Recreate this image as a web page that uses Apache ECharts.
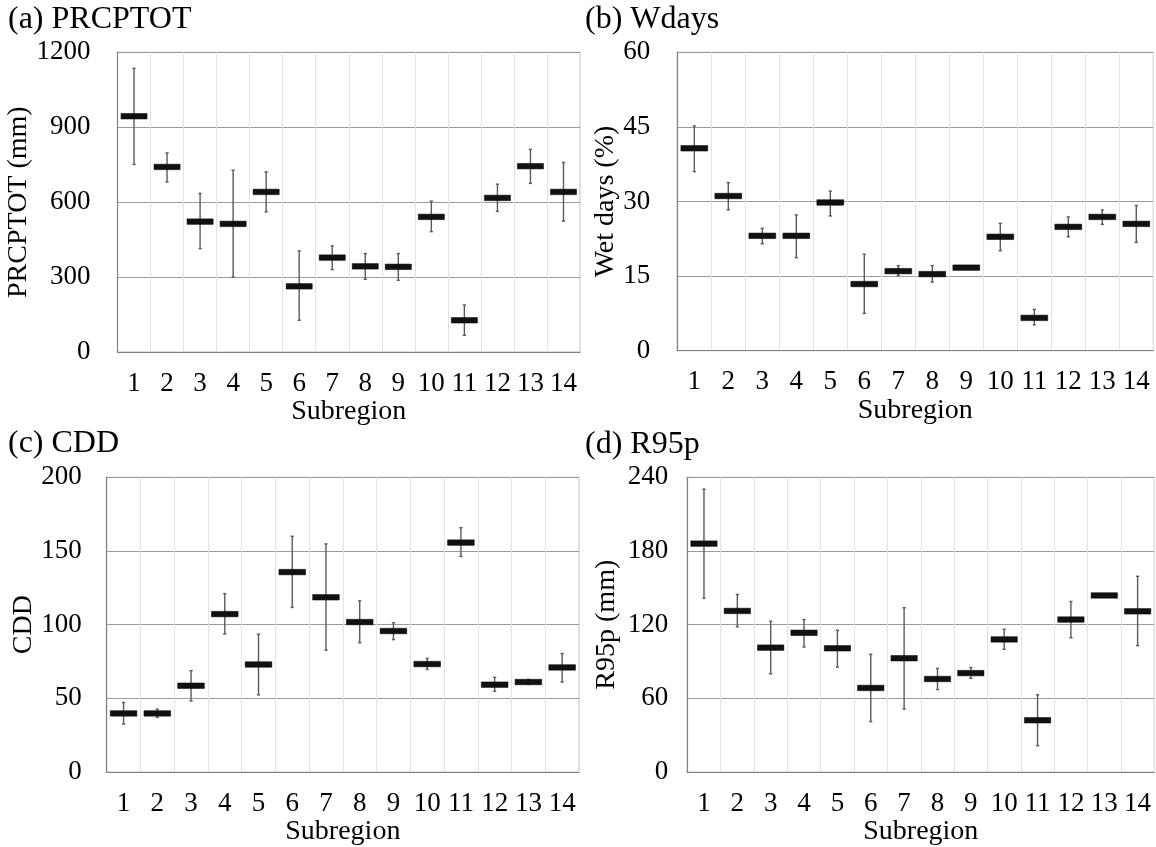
<!DOCTYPE html>
<html>
<head>
<meta charset="utf-8">
<script src="https://cdn.jsdelivr.net/npm/echarts@6/dist/echarts.min.js"></script>
<style>
  html, body { margin: 0; padding: 0; background: #fff; }
  #chart { width: 1156px; height: 847px; }
</style>
</head>
<body>
<div id="chart"></div>
<script>
// Subregion labels shared by all four panels
const subregions = ['1','2','3','4','5','6','7','8','9','10','11','12','13','14'];

// (a) PRCPTOT (mm): central value, lower and upper ends of the range
const prcptotMid  = [944, 741, 522, 513, 641, 263, 378, 343, 341, 541, 127, 617, 744, 641];
const prcptotLow  = [751, 681, 414, 300, 561, 127, 330, 291, 287, 482,  67, 563, 675, 524];
const prcptotHigh = [1136, 797, 635, 728, 721, 405, 425, 394, 394, 604, 188, 672, 811, 759];

// (b) Wet days (%)
const wdaysMid  = [40.7, 31.1, 23.1, 23.1, 29.8, 13.4, 16.0, 15.4, 16.7, 22.9, 6.6, 24.9, 26.9, 25.5];
const wdaysLow  = [36.0, 28.3, 21.5, 18.7, 27.1,  7.5, 15.1, 13.8, 16.4, 20.1, 5.2, 22.9, 25.4, 21.8];
const wdaysHigh = [45.2, 33.8, 24.6, 27.3, 32.1, 19.4, 17.1, 17.1, 16.9, 25.6, 8.3, 26.9, 28.3, 29.2];

// (c) CDD
const cddMid  = [39.8, 39.8, 58.6, 107.2, 73.0, 135.7, 118.6, 101.8, 95.7, 73.3, 155.7, 59.3, 61.1, 71.0];
const cddLow  = [32.6, 37.1, 48.3,  93.7, 52.4, 111.7,  82.7,  87.8, 89.9, 69.7, 146.3, 54.8, 59.5, 61.1];
const cddHigh = [47.2, 42.7, 68.8, 121.1, 93.5, 160.0, 154.8, 116.2, 101.3, 77.1, 165.8, 64.3, 62.9, 80.4];

// (d) R95p (mm)
const r95pMid  = [186.0, 131.2, 101.3, 113.4, 100.8, 68.5, 92.7, 75.8, 80.6, 108.0, 42.2, 124.2, 143.8, 130.9];
const r95pLow  = [141.6, 118.3,  80.1, 101.8,  85.5, 41.1, 51.3, 67.2, 76.3, 100.0, 21.5, 109.4, 143.0, 103.0];
const r95pHigh = [230.3, 144.6, 122.8, 124.2, 115.5, 95.9, 133.8, 84.4, 85.2, 116.3, 62.9, 138.9, 144.6, 159.4];

// Axis tick settings per panel
const prcptotTicks = { max: 1200, interval: 300 };
const wdaysTicks   = { max: 60,   interval: 15 };
const cddTicks     = { max: 200,  interval: 50 };
const r95pTicks    = { max: 240,  interval: 60 };

const FONT = 'Liberation Serif';

function rows(mid, low, high) {
  return mid.map((m, i) => [i, m, low[i], high[i]]);
}

// Range line with a thick horizontal marker at the central value
function renderRange(params, api) {
  const i = api.value(0);
  const pMid = api.coord([i, api.value(1)]);
  const pLow = api.coord([i, api.value(2)]);
  const pHigh = api.coord([i, api.value(3)]);
  const band = api.size([1, 0])[0];
  const w = band * 0.79;
  const h = 5.5;
  const cap = 1.6;
  const lineStyle = { stroke: '#5a5a5a', lineWidth: 1.4 };
  return {
    type: 'group',
    children: [
      { type: 'line', shape: { x1: pMid[0], y1: pLow[1], x2: pMid[0], y2: pHigh[1] }, style: lineStyle },
      { type: 'line', shape: { x1: pMid[0] - cap, y1: pLow[1], x2: pMid[0] + cap, y2: pLow[1] }, style: lineStyle },
      { type: 'line', shape: { x1: pMid[0] - cap, y1: pHigh[1], x2: pMid[0] + cap, y2: pHigh[1] }, style: lineStyle },
      { type: 'rect', shape: { x: pMid[0] - w / 2, y: pMid[1] - h / 2, width: w, height: h },
        style: { fill: '#111', stroke: '#000', lineWidth: 0.5 } }
    ]
  };
}

// Panel boxes in pixels
const panels = [
  { left: 117.5, top: 52.3, width: 462.5, height: 299.7, ticks: prcptotTicks, name: 'PRCPTOT (mm)', nameGap: 71, labelMargin: 27,
    data: rows(prcptotMid, prcptotLow, prcptotHigh) },
  { left: 677.3, top: 52.3, width: 476,   height: 298.4, ticks: wdaysTicks, name: 'Wet days (%)', nameGap: 53, labelMargin: 27,
    data: rows(wdaysMid, wdaysLow, wdaysHigh) },
  { left: 106.7, top: 477.3, width: 472.3, height: 296.7, ticks: cddTicks, name: 'CDD', nameGap: 64, labelMargin: 25,
    data: rows(cddMid, cddLow, cddHigh) },
  { left: 687.3, top: 477.3, width: 467,   height: 297.7, ticks: r95pTicks, name: 'R95p (mm)', nameGap: 67, labelMargin: 19,
    data: rows(r95pMid, r95pLow, r95pHigh) }
];

const titles = [
  { text: '(a) PRCPTOT', left: 8, top: 2 },
  { text: '(b) Wdays', left: 585, top: 2 },
  { text: '(c) CDD', left: 8, top: 426 },
  { text: '(d) R95p', left: 585, top: 427 }
];

const option = {
  backgroundColor: '#fff',
  animation: false,
  textStyle: { fontFamily: FONT },
  title: titles.map(t => ({
    text: t.text, left: t.left, top: t.top, padding: 0,
    textStyle: { fontFamily: FONT, fontSize: 32, fontWeight: 'normal', color: '#000', lineHeight: 35 }
  })),
  grid: panels.map(p => ({
    left: p.left, top: p.top, width: p.width, height: p.height,
    show: true, borderColor: '#b8b8b8', borderWidth: 1, backgroundColor: 'transparent'
  })),
  xAxis: panels.map((p, k) => ({
    type: 'category', gridIndex: k, data: subregions, boundaryGap: true,
    name: 'Subregion', nameLocation: 'middle', nameGap: 44,
    nameTextStyle: { fontFamily: FONT, fontSize: 28, color: '#000' },
    axisLine: { show: true, lineStyle: { color: '#808080', width: 1.2 } },
    axisTick: { show: false },
    axisLabel: { interval: 0, margin: 18, fontFamily: FONT, fontSize: 27, color: '#000' },
    splitLine: { show: true, interval: 0, lineStyle: { color: '#e2e2e2', width: 1 } }
  })),
  yAxis: panels.map((p, k) => ({
    type: 'value', gridIndex: k, min: 0, max: p.ticks.max, interval: p.ticks.interval,
    name: p.name, nameLocation: 'middle', nameGap: p.nameGap, nameRotate: 90,
    nameTextStyle: { fontFamily: FONT, fontSize: 28, color: '#000' },
    axisLine: { show: true, lineStyle: { color: '#808080', width: 1.2 } },
    axisTick: { show: false },
    axisLabel: { margin: p.labelMargin, fontFamily: FONT, fontSize: 27, color: '#000',
      formatter: v => String(v) },
    splitLine: { show: true, lineStyle: { color: '#9a9a9a', width: 1 } }
  })),
  series: panels.map((p, k) => ({
    type: 'custom', xAxisIndex: k, yAxisIndex: k,
    renderItem: renderRange,
    encode: { x: 0, y: [1, 2, 3] },
    data: p.data,
    clip: false
  }))
};

const chart = echarts.init(document.getElementById('chart'), null, { renderer: 'canvas' });
chart.setOption(option);
</script>
</body>
</html>
